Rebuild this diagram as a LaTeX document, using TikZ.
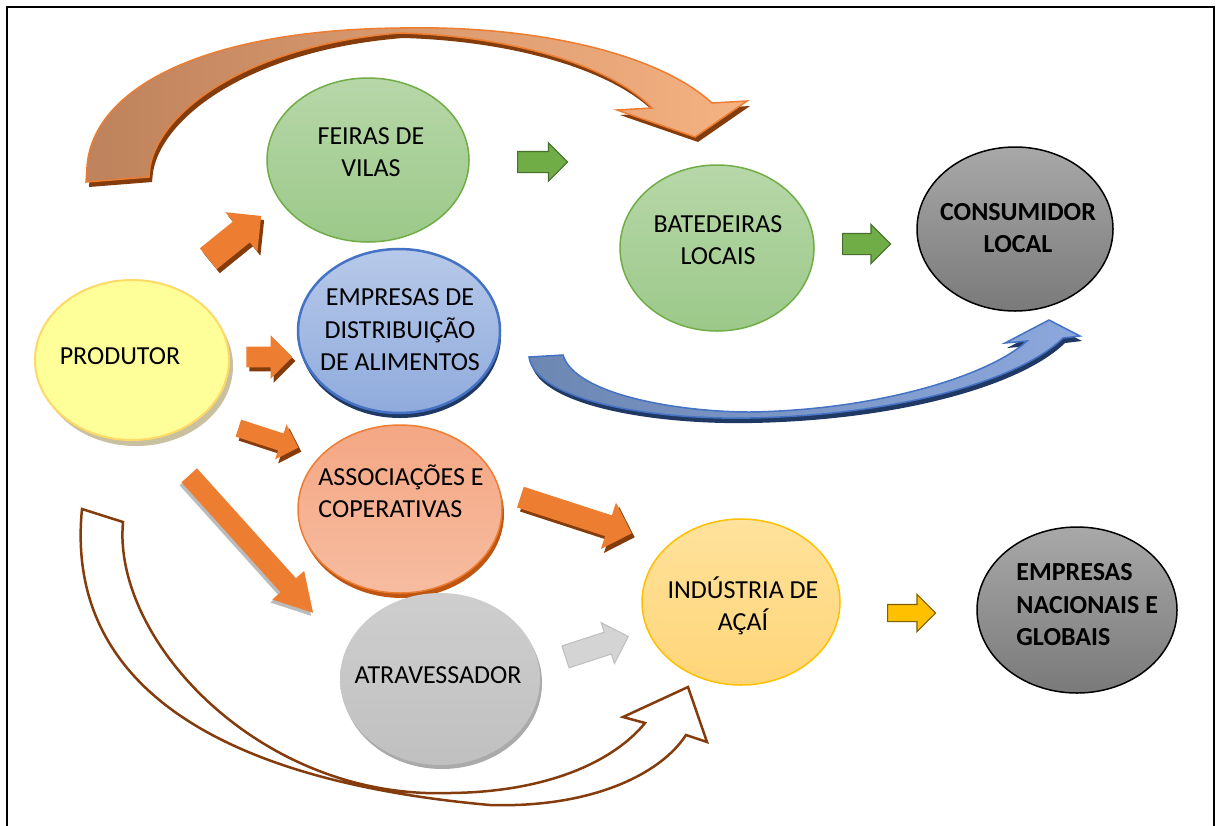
\documentclass[tikz,border=0pt]{standalone}
\usepackage{fontspec}
\setmainfont{Carlito}
\usetikzlibrary{shapes.geometric,shapes.arrows,shadows}

\definecolor{prodfill}{RGB}{255,255,153}
\definecolor{prodline}{RGB}{255,217,102}
\definecolor{prodshade}{RGB}{196,186,150}
\definecolor{greentop}{RGB}{183,215,168}
\definecolor{greenbot}{RGB}{156,201,138}
\definecolor{greenline}{RGB}{112,173,71}
\definecolor{bluetop}{RGB}{183,201,233}
\definecolor{bluebot}{RGB}{143,170,220}
\definecolor{blueline}{RGB}{68,114,196}
\definecolor{blueshade}{RGB}{32,56,100}
\definecolor{salmtop}{RGB}{244,167,132}
\definecolor{salmbot}{RGB}{247,188,160}
\definecolor{orangeline}{RGB}{237,125,49}
\definecolor{orangeshade}{RGB}{190,85,17}
\definecolor{greytop}{RGB}{206,206,206}
\definecolor{greybot}{RGB}{192,192,192}
\definecolor{greyshade}{RGB}{170,170,170}
\definecolor{darktop}{RGB}{168,168,168}
\definecolor{darkbot}{RGB}{122,122,122}
\definecolor{indtop}{RGB}{255,226,156}
\definecolor{indbot}{RGB}{255,213,120}
\definecolor{indline}{RGB}{255,192,0}
\definecolor{brownline}{RGB}{132,60,12}
\definecolor{curveleft}{RGB}{190,130,92}
\definecolor{curveright}{RGB}{245,178,130}
\definecolor{blueleft}{RGB}{108,135,178}
\definecolor{blueright}{RGB}{140,168,220}
\definecolor{greenarrline}{RGB}{70,110,45}
\definecolor{goldarrline}{RGB}{127,96,0}
\definecolor{lightarr}{RGB}{212,212,212}
\definecolor{lightarrline}{RGB}{190,190,190}

\tikzset{
  bubble/.style 2 args={ellipse, minimum width=#1, minimum height=#2, inner sep=0pt},
  prodbubble/.style={fill=prodfill, draw=prodline, line width=1pt,
    drop shadow={shadow xshift=2pt, shadow yshift=-3pt, fill=prodshade, opacity=.9}},
  greenbubble/.style={top color=greentop, bottom color=greenbot, draw=greenline, line width=.75pt},
  bluebubble/.style={top color=bluetop, bottom color=bluebot, draw=blueline, line width=1.25pt,
    drop shadow={shadow xshift=.5pt, shadow yshift=-2.5pt, fill=blueshade, opacity=1}},
  salmbubble/.style={top color=salmtop, bottom color=salmbot, draw=orangeline, line width=.75pt,
    drop shadow={shadow xshift=1pt, shadow yshift=-2.5pt, fill=orangeshade, opacity=1}},
  greybubble/.style={top color=greytop, bottom color=greybot,
    drop shadow={shadow xshift=1pt, shadow yshift=-2pt, fill=greyshade, opacity=1}},
  darkbubble/.style={top color=darktop, bottom color=darkbot, draw=black, line width=.75pt},
  indbubble/.style={top color=indtop, bottom color=indbot, draw=indline, line width=.75pt},
  lbl/.style={font=\fontsize{13}{16.25}\selectfont, align=center, inner sep=0pt},
  lblb/.style={lbl, font=\fontsize{13}{16.25}\selectfont\bfseries},
  fat/.style={shape=single arrow, inner sep=0pt, anchor=tail},
  orangearr/.style={fat, fill=orangeline,
    drop shadow={shadow xshift=1.5pt, shadow yshift=-2pt, fill=brownline, opacity=1}},
  greenarr/.style={fat, fill=greenline, draw=greenarrline, line width=.6pt},
  goldarr/.style={fat, fill=indline, draw=goldarrline, line width=.6pt},
  lightarrow/.style={fat, fill=lightarr, draw=lightarrline, line width=.5pt},
  ribbon/.style={draw=orangeline, line width=.75pt, left color=curveleft, right color=curveright},
  blueribbon/.style={draw=blueline, line width=.75pt, left color=blueleft, right color=blueright},
  outline/.style={draw=brownline, line width=1.25pt, line join=miter}
}

\begin{document}
\begin{tikzpicture}[x=0.5pt, y=-0.5pt]
\clip (0,0) rectangle (1219,825);
\fill[white] (0,0) rectangle (1219,825);
\draw[line width=1.25pt] (7,7) rectangle (1214,870);

% curved arrows
\fill[brownline, shift={(3,5)}] (86,182) -- (87,167) .. controls (92,90) and (200,30) .. (400,28)
  .. controls (540,25) and (660,55) .. (712,103) -- (747,101) -- (695,137) -- (617,110) -- (652,108)
  .. controls (610,65) and (510,36) .. (400,33) .. controls (250,45) and (160,110) .. (150,167)
  -- (149,177) -- cycle;
\path[ribbon] (86,182) -- (87,167) .. controls (92,90) and (200,30) .. (400,28)
  .. controls (540,25) and (660,55) .. (712,103) -- (747,101) -- (695,137) -- (617,110) -- (652,108)
  .. controls (610,65) and (510,36) .. (400,33) .. controls (250,45) and (160,110) .. (150,167)
  -- (149,177) -- cycle;

\fill[blueshade, shift={(2,5)}] (529,357) .. controls (535,400) and (650,420) .. (750,418)
  .. controls (900,415) and (1020,380) .. (1063,338) -- (1080,336) -- (1049,320) -- (1005,343)
  -- (1027,341) .. controls (990,375) and (880,410) .. (750,412)
  .. controls (680,412) and (575,395) .. (563,355) -- cycle;
\path[blueribbon] (529,357) .. controls (535,400) and (650,420) .. (750,418)
  .. controls (900,415) and (1020,380) .. (1063,338) -- (1080,336) -- (1049,320) -- (1005,343)
  -- (1027,341) .. controls (990,375) and (880,410) .. (750,412)
  .. controls (680,412) and (575,395) .. (563,355) -- cycle;

\draw[outline] (82,509) .. controls (65,680) and (210,780) .. (490,805)
  .. controls (590,808) and (660,775) .. (686,735) -- (707,742) -- (688,687) -- (623,717)
  -- (645,723) .. controls (615,760) and (550,792) .. (450,793)
  .. controls (260,800) and (112,640) .. (123,522) -- cycle;

% bubbles
\node[bubble={97pt}{80pt}, prodbubble] (prod) at (132,360) {};
\node[bubble={101pt}{82pt}, greenbubble] (feiras) at (368,160) {};
\node[bubble={101pt}{82pt}, bluebubble] (distrib) at (399,331) {};
\node[bubble={102pt}{84pt}, salmbubble] (assoc) at (400,509) {};
\node[bubble={100pt}{86pt}, greybubble] (atrav) at (440,679) {};
\node[bubble={97pt}{83pt}, greenbubble] (bated) at (717,248) {};
\node[bubble={98pt}{82pt}, darkbubble] (consum) at (1015,229) {};
\node[bubble={99pt}{83pt}, indbubble] (ind) at (741,602) {};
\node[bubble={100pt}{83pt}, darkbubble] (emprnac) at (1077,610) {};

\node[lbl] (prodtxt) at (120,356) {PRODUTOR};
\node[lbl] (feirastxt) at (371,152) {FEIRAS DE\\VILAS};
\node[lbl] (distribtxt) at (400,330) {EMPRESAS DE\\DISTRIBUIÇÃO\\DE ALIMENTOS};
\node[lbl, align=left, anchor=west] (assoctxt) at (318,491) {ASSOCIAÇÕES E\\COPERATIVAS};
\node[lbl] (atravtxt) at (438,675) {ATRAVESSADOR};
\node[lbl] (batedtxt) at (718,240) {BATEDEIRAS\\LOCAIS};
\node[lblb] (consumtxt) at (1018,228) {CONSUMIDOR\\LOCAL};
\node[lbl] (indtxt) at (743,606) {INDÚSTRIA DE\\AÇAÍ};
\node[lblb, align=left, anchor=west] (emprtxt) at (1016,605) {EMPRESAS\\NACIONAIS E\\GLOBAIS};

% block arrows, placed by their tails
\node[orangearr, rotate=39, inner ysep=6.5pt, minimum height=34pt, single arrow head extend=6pt] (toFeiras) at (208,259) {};
\node[orangearr, inner ysep=5pt, minimum height=23pt, single arrow head extend=5.75pt] (toDistrib) at (246,357) {};
\node[orangearr, rotate=-18, inner ysep=4.25pt, minimum height=31.5pt, single arrow head extend=4.75pt] (toAssoc) at (238,428) {};
\node[fat, fill=orangeline, rotate=-48, inner ysep=5pt, minimum height=92.5pt, single arrow head extend=5.5pt,
  single arrow tip angle=60, drop shadow={shadow xshift=-1pt, shadow yshift=-1.5pt, fill=greyshade, opacity=.8}] (toAtrav) at (189,475) {};
\node[orangearr, rotate=-18, inner ysep=5.25pt, minimum height=58.5pt, single arrow head extend=6.75pt] (toInd) at (520,497) {};
\node[lightarrow, rotate=18, inner ysep=5.5pt, minimum height=33pt, single arrow head extend=5pt] (atravInd) at (565,657) {};
\node[greenarr, inner ysep=5pt, minimum height=25pt, single arrow head extend=4.25pt] (toBated) at (517,162) {};
\node[greenarr, inner ysep=5pt, minimum height=24pt, single arrow head extend=4.5pt] (toConsum) at (842,244) {};
\node[goldarr, inner ysep=4pt, minimum height=24pt, single arrow head extend=5pt] (toEmpr) at (887,613) {};
\end{tikzpicture}
\end{document}
